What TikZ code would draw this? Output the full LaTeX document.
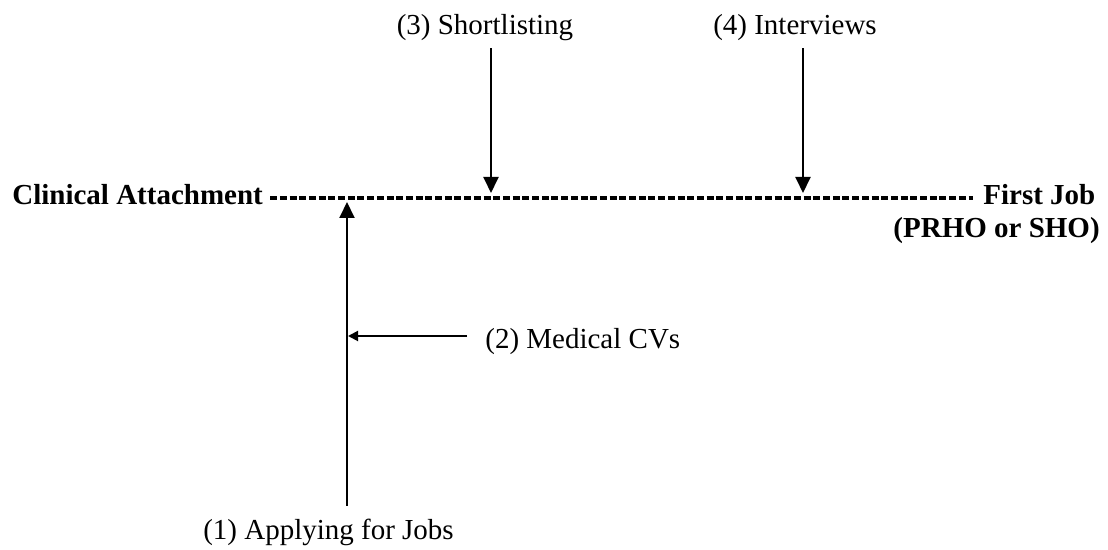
\documentclass[tikz,border=0pt]{standalone}
\usepackage{fontspec}
\setmainfont{Liberation Serif}
\usetikzlibrary{arrows.meta}

\tikzset{
  stage/.style={inner sep=0pt, font=\fontsize{16.5}{19}\selectfont},
  endpoint/.style={stage, font=\fontsize{16.5}{19}\selectfont\bfseries},
  timeline/.style={line width=2.3pt, dash pattern=on 0.14cm off 0.054cm},
  bigarrow/.style={line width=1.1pt, -{Triangle[width=0.3cm, length=0.32cm]}},
  smallarrow/.style={line width=1.1pt, -{Triangle[width=0.2cm, length=0.2cm]}}
}

\begin{document}
\begin{tikzpicture}

    % Fix the page size
    \useasboundingbox (0, 0) rectangle (22.16, 11);

    % Where the arrows meet the time line
    \coordinate (tipApply) at (6.94, 6.96);    % Applying for jobs
    \coordinate (tipShort) at (9.82, 7.14);    % Shortlisting
    \coordinate (tipInter) at (16.06, 7.14);   % Interviews
    \coordinate (tipCV) at (6.96, 4.28);       % Medical CVs

    % The two ends of the time line
    \node[endpoint, anchor=base west] (clinical) at (0.24, 6.9) {Clinical Attachment};
    \node[endpoint, anchor=base west] (firstjob) at (19.66, 6.9) {First Job};
    \node[endpoint, anchor=base east] (grade) at (22.0, 6.24) {(PRHO or SHO)};

    % Draw the time line
    \draw[timeline] ([shift={(0.14, 0.14)}]clinical.base east) -- ([shift={(-0.2, 0.14)}]firstjob.base west);

    % Label the four stages
    \node[stage, anchor=base] (apply) at (6.57, 0.2) {(1) Applying for Jobs};
    \node[stage, anchor=west] (cvs) at (9.7, 4.16) {(2) Medical CVs};
    \node[stage, anchor=base] (short) at (9.7, 10.3) {(3) Shortlisting};
    \node[stage, anchor=base] (inter) at (15.9, 10.3) {(4) Interviews};

    % Arrow up from applying for jobs
    \draw[bigarrow] ([yshift=0.27cm]apply.north -| tipApply) -- (tipApply);

    % Arrow from medical CVs
    \draw[smallarrow] ([xshift=-0.36cm]cvs.west |- tipCV) -- (tipCV);

    % Arrows down to the time line
    \draw[bigarrow] ([yshift=-0.13cm]short.south -| tipShort) -- (tipShort);
    \draw[bigarrow] ([yshift=-0.13cm]inter.south -| tipInter) -- (tipInter);

\end{tikzpicture}
\end{document}
